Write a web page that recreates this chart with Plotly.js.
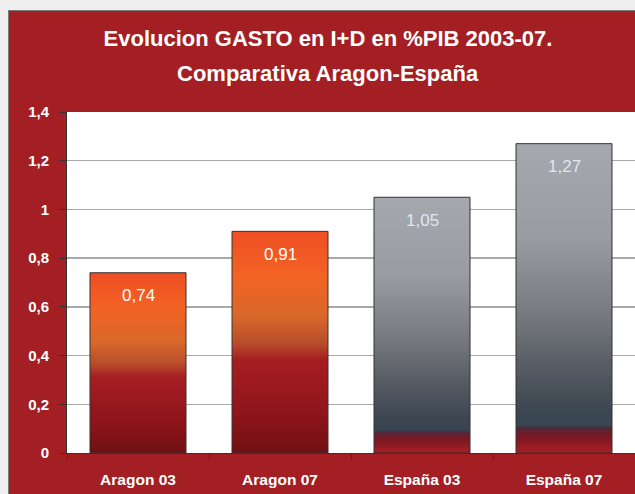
<!DOCTYPE html>
<html>
<head>
<meta charset="utf-8">
<script src="https://cdn.plot.ly/plotly-3.0.1.min.js"></script>
<style>
  html, body { margin: 0; padding: 0; background: #eeeeee; width: 635px; height: 494px; overflow: hidden; }
  #frame { position: absolute; left: 8px; top: 10px; border-left: 1px solid #7a7a7a; border-top: 1px solid #7a7a7a; }
  #chart { width: 626px; height: 483px; }
</style>
</head>
<body>
<div id="frame"><div id="chart"></div></div>
<script>
// ---- data ----
const categories = ['Aragon 03', 'Aragon 07', 'España 03', 'España 07'];
const values = [0.74, 0.91, 1.05, 1.27];
const regions = ['Aragon', 'Aragon', 'España', 'España'];
const titleLine1 = 'Evolucion GASTO en I+D en %PIB 2003-07.';
const titleLine2 = 'Comparativa Aragon-España';

// ---- styles ----
const BG = '#a31f24';
const FONT = 'Liberation Sans, Arial, sans-serif';
const gradients = {
  Aragon: [[0, '#ee4e23'], [0.2, '#f26324'], [0.38, '#d9682a'], [0.5, '#b94f2a'], [0.58, '#a51e22'], [0.64, '#a11b21'], [0.85, '#8a1419'], [1, '#701014']],
  'España': [[0, '#a5a8ae'], [0.3, '#999ca2'], [0.55, '#777a80'], [0.72, '#575c64'], [0.85, '#3f4853'], [0.912, '#374450'], [0.918, '#4b2a3c'], [0.935, '#6e1c2a'], [0.95, '#7d1822'], [0.97, '#8c1a22'], [0.985, '#a01d23'], [1, '#a51f24']]
};
const fallback = { Aragon: '#c0402a', 'España': '#70747a' };
const labelColor = { Aragon: '#ffffff', 'España': '#dfe7f1' };

const trace = {
  type: 'bar',
  x: categories,
  y: values,
  marker: { color: regions.map(r => fallback[r]), line: { color: '#333333', width: 1 } },
  hoverinfo: 'none'
};

const annotations = categories.map((c, i) => ({
  x: c, y: values[i], xref: 'x', yref: 'y',
  text: values[i].toFixed(2).replace('.', ','),
  showarrow: false, yanchor: 'middle', yshift: -23,
  font: { family: FONT, size: 17, color: labelColor[regions[i]] }
}));
annotations.push({
  xref: 'paper', yref: 'paper', x: (328 - 67) / 568, xanchor: 'center', y: 1, yanchor: 'middle', yshift: 38.5,
  text: '<b>' + titleLine2 + '</b>', showarrow: false,
  font: { family: FONT, size: 22, color: '#ffffff' }
});

const layout = {
  width: 626, height: 483,
  paper_bgcolor: BG, plot_bgcolor: '#ffffff',
  margin: { l: 58, r: 0, t: 101, b: 41 },
  separators: ',.',
  showlegend: false,
  bargap: 0.324,
  title: {
    text: '<b>' + titleLine1 + '</b>',
    x: (328 - 9) / 626, xref: 'container', xanchor: 'center',
    y: 1 - 27.6 / 483, yref: 'container', yanchor: 'middle',
    font: { family: FONT, size: 22, color: '#ffffff' }
  },
  xaxis: {
    type: 'category', range: [-0.5, 3.5],
    showgrid: false, zeroline: false,
    showline: true, linecolor: '#333333', linewidth: 1,
    ticks: 'outside', tickson: 'boundaries', ticklen: 6, tickcolor: '#333333',
    tickfont: { family: FONT, size: 15.5, color: '#ffffff', weight: 'bold' },
    ticklabelstandoff: 12
  },
  yaxis: {
    range: [0, 1.4], dtick: 0.2, tick0: 0,
    showgrid: true, gridcolor: '#a9a9a9', gridwidth: 1.5,
    zeroline: false,
    showline: true, linecolor: '#333333', linewidth: 1,
    ticks: 'outside', ticklen: 7, tickcolor: '#333333',
    tickfont: { family: FONT, size: 15, color: '#ffffff', weight: 'bold' },
    ticklabelstandoff: 7
  },
  annotations: annotations
};

Plotly.newPlot('chart', [trace], layout, { displayModeBar: false, staticPlot: true }).then(gd => {
  const svg = gd.querySelector('svg.main-svg');
  const ns = 'http://www.w3.org/2000/svg';
  let defs = svg.querySelector('defs');
  if (!defs) { defs = document.createElementNS(ns, 'defs'); svg.insertBefore(defs, svg.firstChild); }
  const ids = {};
  Object.keys(gradients).forEach((k, gi) => {
    const lg = document.createElementNS(ns, 'linearGradient');
    const id = 'barGrad' + gi;
    lg.setAttribute('id', id);
    lg.setAttribute('x1', '0'); lg.setAttribute('y1', '0');
    lg.setAttribute('x2', '0'); lg.setAttribute('y2', '1');
    gradients[k].forEach(([o, c]) => {
      const st = document.createElementNS(ns, 'stop');
      st.setAttribute('offset', o);
      st.setAttribute('stop-color', c);
      lg.appendChild(st);
    });
    defs.appendChild(lg);
    ids[k] = id;
  });
  gd.querySelectorAll('.barlayer .point path').forEach((p, i) => {
    p.style.fill = 'url(#' + ids[regions[i]] + ')';
  });
});
</script>
</body>
</html>
